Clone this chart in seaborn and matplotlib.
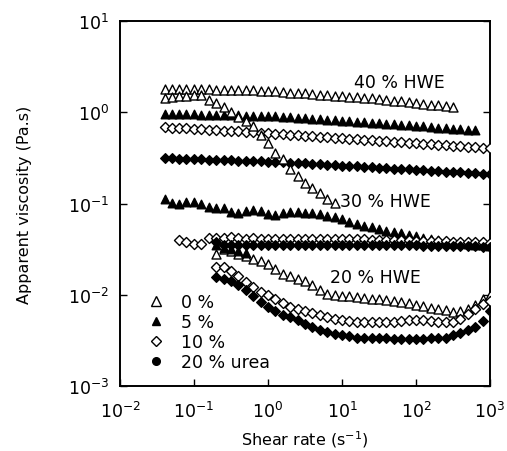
import numpy as np
import pandas as pd
import matplotlib
matplotlib.use('Agg')
import matplotlib.pyplot as plt
from matplotlib.lines import Line2D
from matplotlib.ticker import NullLocator
import seaborn as sns

# shear rate grid (s^-1), 10 points per decade
SHEAR = [0.040, 0.050, 0.063, 0.079, 0.100, 0.126, 0.158, 0.200, 0.251, 0.316,
         0.398, 0.501, 0.631, 0.794, 1.00, 1.26, 1.58, 2.00, 2.51, 3.16,
         3.98, 5.01, 6.31, 7.94, 10.0, 12.6, 15.8, 20.0, 25.1, 31.6,
         39.8, 50.1, 63.1, 79.4, 100, 126, 158, 200, 251, 316,
         398, 501, 631, 794, 1000]

# 40 % HWE
hwe40_u0 = [1.82, 1.81, 1.81, 1.80, 1.80, 1.79, 1.79, 1.78, 1.77, 1.77,
            1.76, 1.75, 1.74, 1.73, 1.72, 1.70, 1.67, 1.65, 1.63, 1.61,
            1.58, 1.56, 1.54, 1.52, 1.50, 1.48, 1.46, 1.44, 1.42, 1.40,
            1.37, 1.34, 1.32, 1.29, 1.26, 1.24, 1.21, 1.19, 1.16, 1.14]
hwe40_u5 = [0.96, 0.96, 0.95, 0.95, 0.95, 0.94, 0.94, 0.94, 0.93, 0.93,
            0.93, 0.92, 0.92, 0.92, 0.91, 0.91, 0.900, 0.888, 0.877, 0.865,
            0.854, 0.843, 0.832, 0.821, 0.810, 0.799, 0.789, 0.778, 0.768, 0.758,
            0.748, 0.738, 0.729, 0.719, 0.710, 0.700, 0.691, 0.682, 0.673, 0.664,
            0.655, 0.647, 0.638]
hwe40_u10 = [0.689, 0.681, 0.674, 0.667, 0.659, 0.652, 0.645, 0.637, 0.631, 0.624,
             0.617, 0.610, 0.603, 0.597, 0.590, 0.584, 0.578, 0.571, 0.564, 0.557,
             0.550, 0.543, 0.536, 0.529, 0.522, 0.516, 0.509, 0.503, 0.497, 0.490,
             0.484, 0.478, 0.472, 0.466, 0.460, 0.454, 0.449, 0.443, 0.438, 0.432,
             0.427, 0.421, 0.416, 0.411, 0.406]
hwe40_u20 = [0.316, 0.314, 0.312, 0.310, 0.308, 0.306, 0.304, 0.302, 0.300, 0.298,
             0.296, 0.294, 0.293, 0.291, 0.289, 0.287, 0.285, 0.282, 0.279, 0.276,
             0.273, 0.270, 0.267, 0.264, 0.261, 0.259, 0.256, 0.253, 0.250, 0.248,
             0.245, 0.242, 0.240, 0.237, 0.234, 0.232, 0.230, 0.227, 0.224, 0.222,
             0.220, 0.217, 0.215, 0.213, 0.210]

# 30 % HWE
hwe30_u0 = [1.43, 1.46, 1.50, 1.53, 1.56, 1.55, 1.38, 1.27, 1.14, 1.00,
            0.90, 0.81, 0.71, 0.57, 0.46, 0.36, 0.31, 0.24, 0.20, 0.17,
            0.148, 0.129, 0.112, 0.102]
hwe30_u5 = [0.112, 0.101, 0.099, 0.1035, 0.1035, 0.099, 0.091, 0.089, 0.089, 0.081,
            0.079, 0.083, 0.085, 0.082, 0.077, 0.075, 0.079, 0.080, 0.080, 0.079,
            0.078, 0.076, 0.074, 0.072, 0.068, 0.063, 0.060, 0.057, 0.055, 0.052,
            0.050, 0.049, 0.047, 0.045, 0.044, 0.042, 0.041, 0.040, 0.039, 0.038,
            0.0376, 0.0363, 0.0355, 0.0350, 0.0343]
hwe30_u10 = [0.0400, 0.0380, 0.0363, 0.0363, 0.0417, 0.0419, 0.0422, 0.0435, 0.0420, 0.0414,
             0.0416, 0.0414, 0.0413, 0.0414, 0.0412, 0.0413, 0.0411, 0.0412, 0.0410, 0.0411,
             0.0409, 0.0408, 0.0408, 0.0406, 0.0405, 0.0404, 0.0402, 0.0401, 0.0399, 0.0398,
             0.0396, 0.0394, 0.0392, 0.0390, 0.0389, 0.0387, 0.0385, 0.0383, 0.0381, 0.0379,
             0.0377, 0.0375, 0.0372]
hwe30_u20 = [0.0378, 0.0355, 0.0350, 0.0348, 0.0350, 0.0349, 0.0351, 0.0350, 0.0349, 0.0350,
             0.0351, 0.0350, 0.0349, 0.0350, 0.0350, 0.0349, 0.0350, 0.0351, 0.0350, 0.0349,
             0.0350, 0.0349, 0.0350, 0.0350, 0.0349, 0.0350, 0.0349, 0.0348, 0.0347, 0.0346,
             0.0345, 0.0344, 0.0343, 0.0342, 0.0340, 0.0339, 0.0337, 0.0335]

# 20 % HWE
hwe20_u0 = [0.0280, 0.0317, 0.0302, 0.0280, 0.0266, 0.0247, 0.0234, 0.0217, 0.0191, 0.0169,
            0.0160, 0.0149, 0.0142, 0.0128, 0.0113, 0.0102, 0.0099, 0.0097, 0.0097, 0.0095,
            0.0092, 0.0090, 0.0090, 0.0088, 0.0085, 0.0083, 0.0081, 0.0077, 0.0075, 0.0072,
            0.0070, 0.0068, 0.0065, 0.0066, 0.0070, 0.0077, 0.0090, 0.0099]
hwe20_u5 = [0.0351, 0.0325, 0.0317, 0.0302, 0.0287]
hwe20_u10 = [0.0201, 0.0201, 0.0182, 0.0160, 0.0138, 0.0122, 0.0107, 0.0099, 0.0090, 0.0081,
             0.0073, 0.0070, 0.0066, 0.0063, 0.0060, 0.0057, 0.0054, 0.0053, 0.0052, 0.0050,
             0.0050, 0.0050, 0.0050, 0.0050, 0.0050, 0.0052, 0.0053, 0.0053, 0.0053, 0.0052,
             0.0050, 0.0050, 0.0050, 0.0054, 0.0062, 0.0070, 0.0079, 0.0085]
hwe20_u20 = [0.0157, 0.0149, 0.0142, 0.0128, 0.0113, 0.0097, 0.0083, 0.0073, 0.0066, 0.0060,
             0.0057, 0.0053, 0.0048, 0.0044, 0.0041, 0.0039, 0.0037, 0.0036, 0.0035, 0.0034,
             0.0034, 0.0034, 0.0034, 0.0034, 0.0033, 0.0033, 0.0033, 0.0033, 0.0033, 0.0034,
             0.0034, 0.0034, 0.0036, 0.0038, 0.0041, 0.0044, 0.0052, 0.0066]

legend_labels = ['0 %', '5 %', '10 %', '20 % urea']
hwe_labels = ['40 % HWE', '30 % HWE', '20 % HWE']

sns.set_style('ticks')
plt.rcParams['font.family'] = ['DejaVu Sans']
plt.rcParams['mathtext.default'] = 'regular'
for key in ['text.color', 'axes.labelcolor', 'xtick.color', 'ytick.color', 'axes.edgecolor']:
    plt.rcParams[key] = 'black'

fig, ax = plt.subplots(figsize=(5.07, 4.52), dpi=100)
fig.subplots_adjust(left=0.2367, right=0.9665, top=0.951, bottom=0.1438)

# marker, face colour, size for each urea level
styles = {
    'u0': ('^', 'white', 42),
    'u5': ('^', 'black', 38),
    'u10': ('D', 'white', 26),
    'u20': ('D', 'black', 24),
}
series = [
    (hwe40_u0, 0, 'u0'), (hwe40_u5, 0, 'u5'), (hwe40_u10, 0, 'u10'), (hwe40_u20, 0, 'u20'),
    (hwe30_u0, 0, 'u0'), (hwe30_u5, 0, 'u5'), (hwe30_u10, 2, 'u10'), (hwe30_u20, 7, 'u20'),
    (hwe20_u0, 7, 'u0'), (hwe20_u5, 7, 'u5'), (hwe20_u10, 7, 'u10'), (hwe20_u20, 7, 'u20'),
]
for vals, start, key in series:
    m, fc, s = styles[key]
    df = pd.DataFrame({'shear': SHEAR[start:start + len(vals)], 'visc': vals})
    sns.scatterplot(data=df, x='shear', y='visc', marker=m, s=s, color=fc,
                    edgecolor='black', linewidth=1.0, ax=ax, legend=False, zorder=3)

ax.set_xscale('log')
ax.set_yscale('log')
ax.set_xlim(1e-2, 1e3)
ax.set_ylim(1e-3, 1e1)
ax.set_xticks([1e-2, 1e-1, 1e0, 1e1, 1e2, 1e3])
ax.set_yticks([1e-3, 1e-2, 1e-1, 1e0, 1e1])
ax.xaxis.set_minor_locator(NullLocator())
ax.yaxis.set_minor_locator(NullLocator())
ax.tick_params(axis='both', which='major', direction='in', length=5, width=1,
               labelsize=12.5, right=True, colors='black')
ax.tick_params(axis='x', pad=11)
ax.tick_params(axis='y', pad=8)
for sp in ax.spines.values():
    sp.set_linewidth(1.4)
    sp.set_color('black')

ax.set_xlabel('Shear rate (s$^{-1}$)', fontsize=11.5, labelpad=5)
ax.set_ylabel('Apparent viscosity (Pa.s)', fontsize=11.5, labelpad=26)

ax.text(0.632, 0.833, hwe_labels[0], transform=ax.transAxes, fontsize=12.5, va='center')
ax.text(0.595, 0.507, hwe_labels[1], transform=ax.transAxes, fontsize=12.5, va='center')
ax.text(0.568, 0.299, hwe_labels[2], transform=ax.transAxes, fontsize=12.5, va='center')

handles = [
    Line2D([], [], ls='none', marker='^', ms=6.5, mfc='white', mec='black', mew=1),
    Line2D([], [], ls='none', marker='^', ms=6, mfc='black', mec='black', mew=1),
    Line2D([], [], ls='none', marker='D', ms=5, mfc='white', mec='black', mew=1),
    Line2D([], [], ls='none', marker='o', ms=5.5, mfc='black', mec='black', mew=1),
]
ax.legend(handles, legend_labels, loc='upper left', bbox_to_anchor=(0.075, 0.255),
          frameon=False, fontsize=12.5, handlelength=1.0, handletextpad=0.9,
          labelspacing=0.12, borderpad=0, borderaxespad=0)

plt.savefig('out.png', dpi=100)
